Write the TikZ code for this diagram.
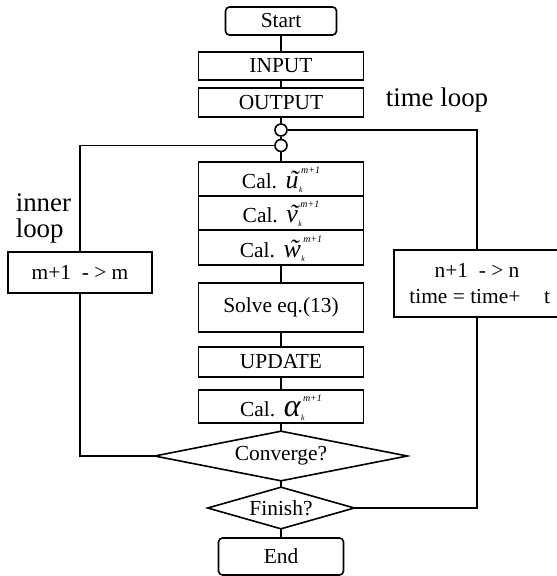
\documentclass[tikz,border=0pt]{standalone}
\usepackage{fontspec}
\setmainfont{Liberation Serif}
% italic letter with a tilde set over it
\newcommand\tilit[1]{{\itshape\ooalign{#1\cr\hidewidth\kern.14em\char"02DC\hidewidth\cr}}}
% "Cal." followed by a large variable with iteration superscript and index subscript
\newcommand\calvar[2][26]{Cal.\hspace{0.4em}{\fontsize{#1}{#1}\selectfont #2}\kern0.5bp
  \rlap{\raisebox{-4bp}{\fontsize{8}{8}\selectfont\itshape k}}\kern2bp
  \raisebox{15bp}{\fontsize{10}{10}\selectfont\itshape m+1}}
\begin{document}
\begin{tikzpicture}[x=1bp,y=-1bp,line width=1.6bp,
  every node/.style={font=\fontsize{21.5}{25}\selectfont},
  proc/.style={draw,rectangle,minimum width=165bp,inner sep=0pt},
  term/.style={draw,rectangle,rounded corners=4bp,inner sep=0pt},
  junc/.style={draw,circle,fill=white,minimum size=12bp,inner sep=0pt},
  dec/.style={rectangle,inner sep=0pt},
  calbox/.style={proc,text depth=2bp},
  looplbl/.style={font=\fontsize{27}{30}\selectfont,anchor=base west,inner sep=0pt}]
\useasboundingbox (0,0) rectangle (557,576);

% main column
\node[term,minimum width=111bp,minimum height=28bp] (start) at (281,21) {Start};
\node[proc,minimum height=28bp] (in) at (281,66) {INPUT};
\node[proc,minimum height=29bp] (out) at (281,102.5) {OUTPUT};
\node[junc] (j1) at (281,130) {};
\node[junc] (j2) at (281,145.5) {};
\node[calbox,minimum height=34bp] (cu) at (281,179) {\calvar{\tilit{u}}};
\node[calbox,minimum height=34bp] (cv) at (281,213) {\calvar{\tilit{v}}};
\node[calbox,minimum height=35bp] (cw) at (281,247.5) {\calvar{\tilit{w}}};
\node[proc,minimum height=49bp] (solve) at (281,307.5) {Solve eq.(13)};
\node[proc,minimum height=30bp] (upd) at (281,362) {UPDATE};
\node[calbox,minimum height=33bp] (ca) at (281,406.5) {\calvar[32]{\itshape α}};

% decisions: the diamond is drawn through the four side anchors of the node
\node[dec,minimum width=251bp,minimum height=48bp] (conv) at (281,456) {Converge?};
\draw (conv.west) -- (conv.north) -- (conv.east) -- (conv.south) -- cycle;
\node[dec,minimum width=145bp,minimum height=40bp] (fin) at (281,508) {Finish?};
\draw (fin.west) -- (fin.north) -- (fin.east) -- (fin.south) -- cycle;

\node[term,minimum width=125bp,minimum height=37bp] (end) at (281,556.5) {End};

% loop update boxes
\node[draw,rectangle,minimum width=144bp,minimum height=41bp,inner sep=0pt] (mbox) at (80,272.5) {m+1 \ - > m};
\node[draw,rectangle,minimum width=166bp,minimum height=67bp,inner sep=0pt,align=center] (nbox) at (477,283.5)
  {n+1 \ - > n\\[1pt] \ time = time+\hspace{1.1em}t};

% labels
\node[looplbl] (tl) at (385,107) {time loop};
\node[looplbl] (il1) at (15,211) {inner};
\node[looplbl] (il2) at (15,237) {loop};

% connectors of the main column
\draw (start) -- (in);
\draw (in) -- (out);
\draw (out.south) -- (j1.north);
\draw (j1.south) -- (j2.north);
\draw (j2.south) -- (cu.north);
\draw (cw.south) -- (solve.north);
\draw (solve.south) -- (upd.north);
\draw (upd.south) -- (ca.north);
\draw (ca.south) -- (conv.north);
\draw (conv.south) -- (fin.north);
\draw (fin.south) -- (end.north);

% time loop
\draw (j1.east) -| (nbox.north);
\draw (nbox.south) |- (fin.east);
% inner loop
\draw (j2.west) -| (mbox.north);
\draw (mbox.south) |- (conv.west);
\end{tikzpicture}
\end{document}
